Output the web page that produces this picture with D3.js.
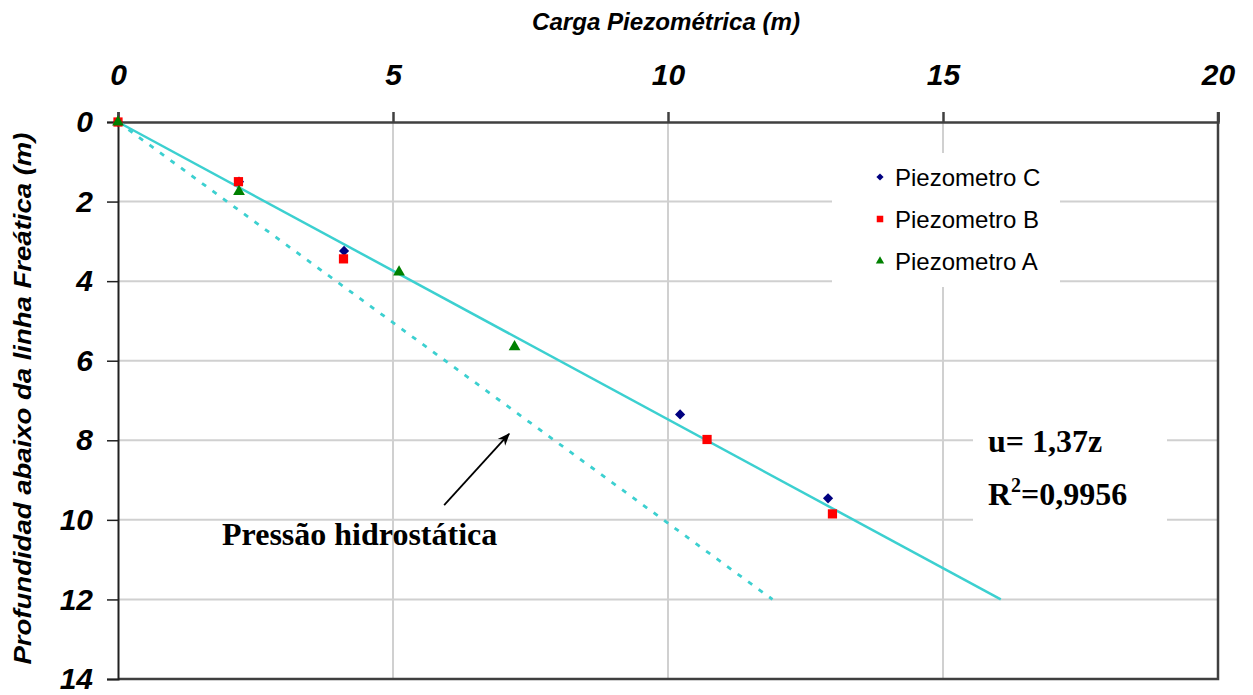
<!DOCTYPE html>
<html>
<head>
<meta charset="utf-8">
<script src="https://cdn.jsdelivr.net/npm/d3@7"></script>
<style>
  body { margin: 0; background: #fff; }
  svg { display: block; }
  .tick text { font-family: 'Liberation Sans', Arial, sans-serif; font-weight: bold; font-style: italic; font-size: 30px; fill: #000; }
</style>
</head>
<body>
<div id="app"></div>
<script>
'use strict'

// Data (u = carga, z = profundidade)
const seriesNames = ['Piezometro C', 'Piezometro B', 'Piezometro A']
const piezoC_u = [0, 2.2, 4.11, 10.22, 12.91]
const piezoC_z = [0, 1.5, 3.24, 7.35, 9.46]
const piezoB_u = [0, 2.19, 4.1, 10.71, 12.99]
const piezoB_z = [0, 1.5, 3.44, 7.98, 9.85]
const piezoA_u = [0, 2.2, 5.11, 7.21]
const piezoA_z = [0, 1.75, 3.77, 5.65]

// linhas
const trendZ = [0, 12]
const trendU = [0, 16.05]
const hydroZ = [0, 12]
const hydroU = [0, 11.9]

const xTicks = [0, 5, 10, 15, 20]
const yTicks = [0, 2, 4, 6, 8, 10, 12, 14]

const eqText = 'u= 1,37z'
const r2Value = '=0,9956'
const hydroLabel = 'Pressão hidrostática'
const arrowU = [5.93, 7.11]
const arrowZ = [9.63, 7.84]

const setWidth = 1253
const setHeight = 695
const plot = { left: 118, top: 122, right: 1218, bottom: 679 }

const svg = d3.select('#app')
  .append('svg')
  .attr('width', setWidth)
  .attr('height', setHeight)

const scaleX = d3.scaleLinear().domain([0, 20]).range([plot.left, plot.right])
const scaleY = d3.scaleLinear().domain([0, 14]).range([plot.top, plot.bottom])

// gridlines
svg.append('g')
  .selectAll('line')
  .data(xTicks.slice(1, -1))
  .enter()
  .append('line')
  .attr('x1', d => scaleX(d)).attr('x2', d => scaleX(d))
  .attr('y1', plot.top).attr('y2', plot.bottom)
  .attr('stroke', '#d0d0d0').attr('stroke-width', 2)

svg.append('g')
  .selectAll('line')
  .data(yTicks.slice(1, -1))
  .enter()
  .append('line')
  .attr('x1', plot.left).attr('x2', plot.right)
  .attr('y1', d => scaleY(d)).attr('y2', d => scaleY(d))
  .attr('stroke', '#d0d0d0').attr('stroke-width', 2)

// border right / bottom
svg.append('path')
  .attr('d', `M${plot.right},${plot.top - 10}V${plot.bottom}H${plot.left}`)
  .attr('fill', 'none').attr('stroke', '#404040').attr('stroke-width', 2.5)

// axes
const axisTop = svg.append('g')
  .attr('transform', `translate(0,${plot.top})`)
  .call(d3.axisTop(scaleX).tickValues(xTicks).tickSize(10).tickPadding(27).tickFormat(d3.format('d')))
axisTop.select('.domain').attr('stroke', '#404040').attr('stroke-width', 2.5)
axisTop.selectAll('.tick line').attr('stroke', '#404040').attr('stroke-width', 2.5)

const axisLeft = svg.append('g')
  .attr('transform', `translate(${plot.left},0)`)
  .call(d3.axisLeft(scaleY).tickValues(yTicks).tickSize(11).tickPadding(14).tickFormat(d3.format('d')))
axisLeft.select('.domain').attr('stroke', '#202020').attr('stroke-width', 2)
axisLeft.selectAll('.tick line').attr('stroke', '#202020').attr('stroke-width', 1.5)

// axis titles
svg.append('text')
  .attr('x', 666).attr('y', 30)
  .attr('text-anchor', 'middle')
  .attr('textLength', 268).attr('lengthAdjust', 'spacingAndGlyphs')
  .style('font-family', "'Liberation Sans', Arial, sans-serif")
  .style('font-weight', 'bold').style('font-style', 'italic').style('font-size', '24px')
  .text('Carga Piezométrica (m)')

svg.append('text')
  .attr('transform', `translate(31,${(plot.top + plot.bottom) / 2 - 2}) rotate(-90)`)
  .attr('text-anchor', 'middle')
  .attr('textLength', 532).attr('lengthAdjust', 'spacingAndGlyphs')
  .style('font-family', "'Liberation Sans', Arial, sans-serif")
  .style('font-weight', 'bold').style('font-style', 'italic').style('font-size', '24px')
  .text('Profundidad abaixo da linha Freática (m)')

// lines
const line = d3.line().x(d => scaleX(d[0])).y(d => scaleY(d[1]))

svg.append('path')
  .attr('d', line(d3.zip(hydroU, hydroZ)))
  .attr('fill', 'none').attr('stroke', '#3cd0d0').attr('stroke-width', 2.8)
  .attr('stroke-dasharray', '5,8')

svg.append('path')
  .attr('d', line(d3.zip(trendU, trendZ)))
  .attr('fill', 'none').attr('stroke', '#3cd0d0').attr('stroke-width', 2.5)

// points
const series = [
  { name: seriesNames[0], u: piezoC_u, z: piezoC_z, color: '#000080', shape: d3.symbolSquare, size: 52, rot: 45 },
  { name: seriesNames[1], u: piezoB_u, z: piezoB_z, color: '#ff0000', shape: d3.symbolSquare, size: 85, rot: 0 },
  { name: seriesNames[2], u: piezoA_u, z: piezoA_z, color: '#008000', shape: d3.symbolTriangle, size: 60, rot: 0 }
]

series.forEach(s => {
  svg.append('g')
    .selectAll('path')
    .data(d3.zip(s.u, s.z))
    .enter()
    .append('path')
    .attr('d', d3.symbol().type(s.shape).size(s.size))
    .attr('transform', d => `translate(${scaleX(d[0])},${scaleY(d[1])}) rotate(${s.rot})`)
    .attr('fill', s.color)
})

// legend
const legend = svg.append('g')
legend.append('rect')
  .attr('x', 832).attr('y', 153).attr('width', 228).attr('height', 134)
  .attr('fill', '#fff')

series.forEach((s, i) => {
  const ly = 177 + i * 42
  legend.append('path')
    .attr('d', d3.symbol().type(s.shape).size(s.size * 0.5))
    .attr('transform', `translate(880,${ly}) rotate(${s.rot})`)
    .attr('fill', s.color)
  legend.append('text')
    .attr('x', 895).attr('y', ly + 9)
    .style('font-family', "'Liberation Sans', Arial, sans-serif")
    .style('font-size', '24px')
    .text(s.name)
})

// equation box
svg.append('rect')
  .attr('x', 973).attr('y', 412).attr('width', 194).attr('height', 120)
  .attr('fill', '#fff')

const serif = "'Liberation Serif', 'Times New Roman', serif"
svg.append('text')
  .attr('x', 988).attr('y', 452)
  .style('font-family', serif).style('font-weight', 'bold').style('font-size', '32px')
  .text(eqText)

const r2 = svg.append('text')
  .attr('x', 988).attr('y', 505)
  .style('font-family', serif).style('font-weight', 'bold').style('font-size', '32px')
r2.append('tspan').text('R')
r2.append('tspan').attr('dy', -13).style('font-size', '20px').text('2')
r2.append('tspan').attr('dy', 13).text(r2Value)

// hydrostatic annotation
svg.append('defs').append('marker')
  .attr('id', 'arrow')
  .attr('viewBox', '0 0 10 10')
  .attr('refX', 9).attr('refY', 5)
  .attr('markerWidth', 7).attr('markerHeight', 7)
  .attr('orient', 'auto')
  .append('path')
  .attr('d', 'M0,1 L10,5 L0,9 L3,5 Z')
  .attr('fill', '#000')

svg.append('line')
  .attr('x1', scaleX(arrowU[0])).attr('y1', scaleY(arrowZ[0]))
  .attr('x2', scaleX(arrowU[1])).attr('y2', scaleY(arrowZ[1]))
  .attr('stroke', '#000').attr('stroke-width', 1.8)
  .attr('marker-end', 'url(#arrow)')

svg.append('text')
  .attr('x', 222).attr('y', 545)
  .style('font-family', serif).style('font-weight', 'bold').style('font-size', '32px')
  .text(hydroLabel)
</script>
</body>
</html>
